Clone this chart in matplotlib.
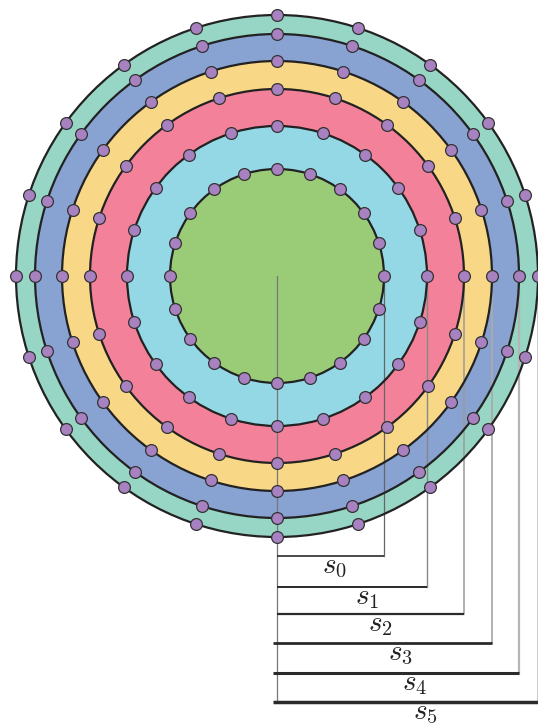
import numpy as np
import matplotlib
matplotlib.use("Agg")
import matplotlib.pyplot as plt
from matplotlib.patches import Circle

plt.rcParams['mathtext.fontset'] = 'cm'

# data
labels = [r"$s_0$", r"$s_1$", r"$s_2$", r"$s_3$", r"$s_4$", r"$s_5$"]
radii = [107, 150, 187, 215, 242, 261]
dots_per_circle = [20, 20, 20, 20, 20, 20]
fill_colors = ["#9ACC78", "#94D8E6", "#F4819A", "#F8D886", "#88A2D2", "#97D6C4"]

# layout
bar_y = [-280, -311, -338, -367, -397, -426]
bar_x0 = [0, 0, 0, -4, -4, -4]
bar_lw = [1.2, 1.4, 1.6, 2.0, 2.2, 2.5]
label_x = [45, 78, 91, 111, 125, 136]
vline_colors = ["#666666", "#888888", "#9a9a9a", "#aaaaaa", "#b5b5b5", "#bbbbbb"]
vline_lw = [0.9, 1.0, 1.1, 1.3, 1.6, 1.8]

fig = plt.figure(figsize=(5.38, 7.26), dpi=100)
ax = fig.add_axes([0, 0, 1, 1])
ax.set_xlim(-277, 261)
ax.set_ylim(-450, 276)
ax.set_aspect('equal')
ax.axis('off')

# fills, outer first
for r, c in sorted(zip(radii, fill_colors), key=lambda t: -t[0]):
    ax.add_patch(Circle((0, 0), r, facecolor=c, edgecolor='none', zorder=1))

# vertical guide lines
ax.plot([0, 0], [0, bar_y[-1]], color="#777777", lw=0.9, zorder=2)
for r, yb, col, lw in zip(radii, bar_y, vline_colors, vline_lw):
    ax.plot([r, r], [0, yb], color=col, lw=lw, zorder=2)

# circle outlines
for r in radii:
    ax.add_patch(Circle((0, 0), r, facecolor='none', edgecolor='#222222', lw=1.6, zorder=3))

# dots
for r, n in zip(radii, dots_per_circle):
    th = np.pi / 2 - np.arange(n) * 2 * np.pi / n
    ax.plot(r * np.cos(th), r * np.sin(th), 'o', ms=8.5, mfc='#A882C0',
            mec='#333333', mew=0.9, zorder=4, clip_on=False)

# horizontal bars and labels
for r, yb, x0, lw, lab, lx in zip(radii, bar_y, bar_x0, bar_lw, labels, label_x):
    ax.plot([x0, r], [yb, yb], color='#2a2a2a', lw=lw, zorder=2,
            solid_capstyle='butt')
    ax.text(lx, yb - 17, lab, ha='left', va='baseline', fontsize=21, color='#222222')

fig.savefig("out.png", dpi=100)
